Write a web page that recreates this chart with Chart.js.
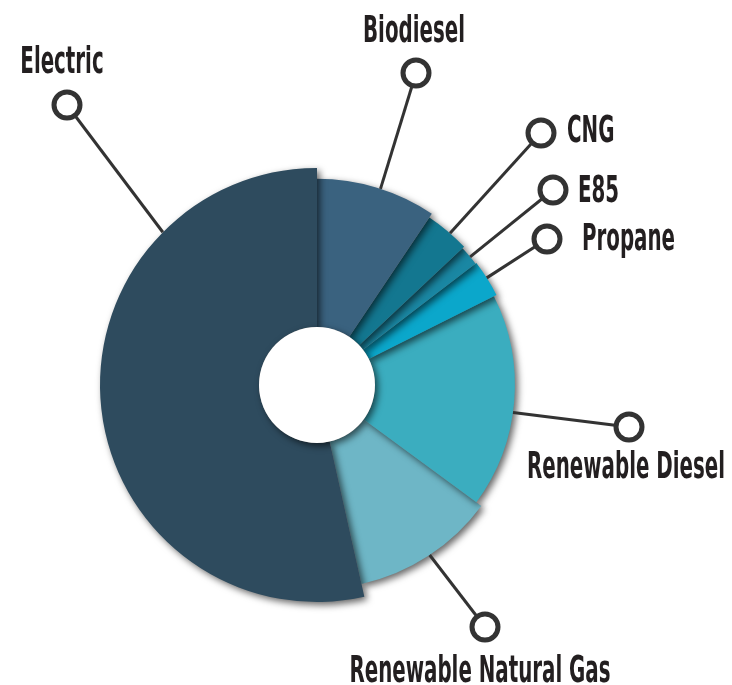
<!DOCTYPE html>
<html>
<head>
<meta charset="utf-8">
<script src="https://cdn.jsdelivr.net/npm/chart.js@4/dist/chart.umd.min.js"></script>
<style>
  html, body { margin: 0; padding: 0; background: #ffffff; }
  #wrap { width: 732px; height: 685px; }
</style>
</head>
<body>
<div id="wrap"><canvas id="fuelChart" width="732" height="685"></canvas></div>
<script>
// 연료별 비중 (%) - 그림에서 읽은 값
const categories = ['Biodiesel', 'CNG', 'E85', 'Propane', 'Renewable Diesel', 'Renewable Natural Gas', 'Electric'];
const shares = [9.4, 3.6, 1.6, 3.0, 17.5, 11.4, 53.5];

// 스타일
const sliceColors = ['#3a627f', '#137790', '#1a87a3', '#0ba7cb', '#3badbf', '#6eb6c6', '#2e4b5e'];
const radiusScale = [0.95, 0.93, 0.92, 0.925, 0.912, 0.94, 1.0];
const drawOrder = [5, 4, 3, 2, 1, 0, 6];
const holeRadius = 58;

// 콜아웃 배치 (마커 위치, 라벨 위치, 선이 닿는 호 위치 비율)
const callouts = [
  { mx: 416, my: 73,  lx: 414, ly: 42,  align: 'center', at: 0.53 },
  { mx: 541, my: 133, lx: 567, ly: 142, align: 'left',   at: 0.57 },
  { mx: 553, my: 190, lx: 578, ly: 202, align: 'left',   at: 0.57 },
  { mx: 547, my: 239, lx: 582, ly: 250, align: 'left',   at: 0.48 },
  { mx: 629, my: 427, lx: 626, ly: 478, align: 'center', at: 0.55 },
  { mx: 485, my: 627, lx: 480, ly: 682, align: 'center', at: 0.49 },
  { mx: 67,  my: 105, lx: 62,  ly: 73,  align: 'center', at: 0.765 }
];
const labelFont = "bold 38px 'Liberation Sans Narrow', 'DejaVu Sans Condensed', 'Liberation Sans', sans-serif";

const sliceShadow = {
    id: 'sliceShadow',
    afterDatasetsUpdate(chart) {
        const meta = chart.getDatasetMeta(0);
        const base = meta.controller.outerRadius;
        meta.data.forEach((arc, i) => { arc.outerRadius = base * radiusScale[i]; });
    },
    beforeDatasetDraw(chart, args) {
        const ctx = chart.ctx;
        const arcs = args.meta.data;
        ctx.save();
        ctx.shadowColor = 'rgba(0,0,0,0.6)';
        ctx.shadowBlur = 7;
        ctx.shadowOffsetX = 3;
        ctx.shadowOffsetY = 3;
        drawOrder.forEach(i => arcs[i].draw(ctx, chart.chartArea));
        ctx.restore();
        return false;
    },
    afterDatasetsDraw(chart) {
        const ctx = chart.ctx;
        const arcs = chart.getDatasetMeta(0).data;
        const cx = arcs[0].x, cy = arcs[0].y;

        // 가운데 구멍
        ctx.save();
        ctx.shadowColor = 'rgba(0,0,0,0.6)';
        ctx.shadowBlur = 7;
        ctx.shadowOffsetX = 3;
        ctx.shadowOffsetY = 3;
        ctx.fillStyle = '#ffffff';
        ctx.beginPath();
        ctx.arc(cx, cy, holeRadius, 0, Math.PI * 2);
        ctx.fill();
        ctx.restore();

        // 글자 가로 압축 비율 (Renewable Diesel 폭 기준)
        ctx.save();
        ctx.font = labelFont;
        const squeeze = 198 / ctx.measureText('Renewable Diesel').width;
        ctx.restore();

        arcs.forEach((arc, i) => {
            const c = callouts[i];
            const a = arc.startAngle + (arc.endAngle - arc.startAngle) * c.at;
            const ax = cx + Math.cos(a) * arc.outerRadius;
            const ay = cy + Math.sin(a) * arc.outerRadius;

            ctx.save();
            ctx.strokeStyle = '#333333';
            ctx.lineWidth = 3;
            ctx.beginPath();
            ctx.moveTo(ax, ay);
            ctx.lineTo(c.mx, c.my);
            ctx.stroke();

            ctx.fillStyle = '#ffffff';
            ctx.lineWidth = 5;
            ctx.beginPath();
            ctx.arc(c.mx, c.my, 13, 0, Math.PI * 2);
            ctx.fill();
            ctx.stroke();

            ctx.fillStyle = '#231f20';
            ctx.font = labelFont;
            ctx.textAlign = c.align;
            ctx.textBaseline = 'alphabetic';
            ctx.translate(c.lx, c.ly);
            ctx.scale(squeeze, 1);
            ctx.fillText(categories[i], 0, 0);
            ctx.restore();
        });
    }
};

const myDoughnut = new Chart(document.getElementById('fuelChart').getContext('2d'), {
    type: 'doughnut',
    data: {
        labels: categories,
        datasets: [{
            data: shares,
            backgroundColor: sliceColors,
            borderWidth: 0
        }]
    },
    options: {
        responsive: false,
        animation: false,
        events: [],
        cutout: holeRadius,
        layout: { padding: { left: 100, right: 198, top: 168, bottom: 83 } },
        plugins: { legend: { display: false }, tooltip: { enabled: false } }
    },
    plugins: [sliceShadow]
});
</script>
</body>
</html>
